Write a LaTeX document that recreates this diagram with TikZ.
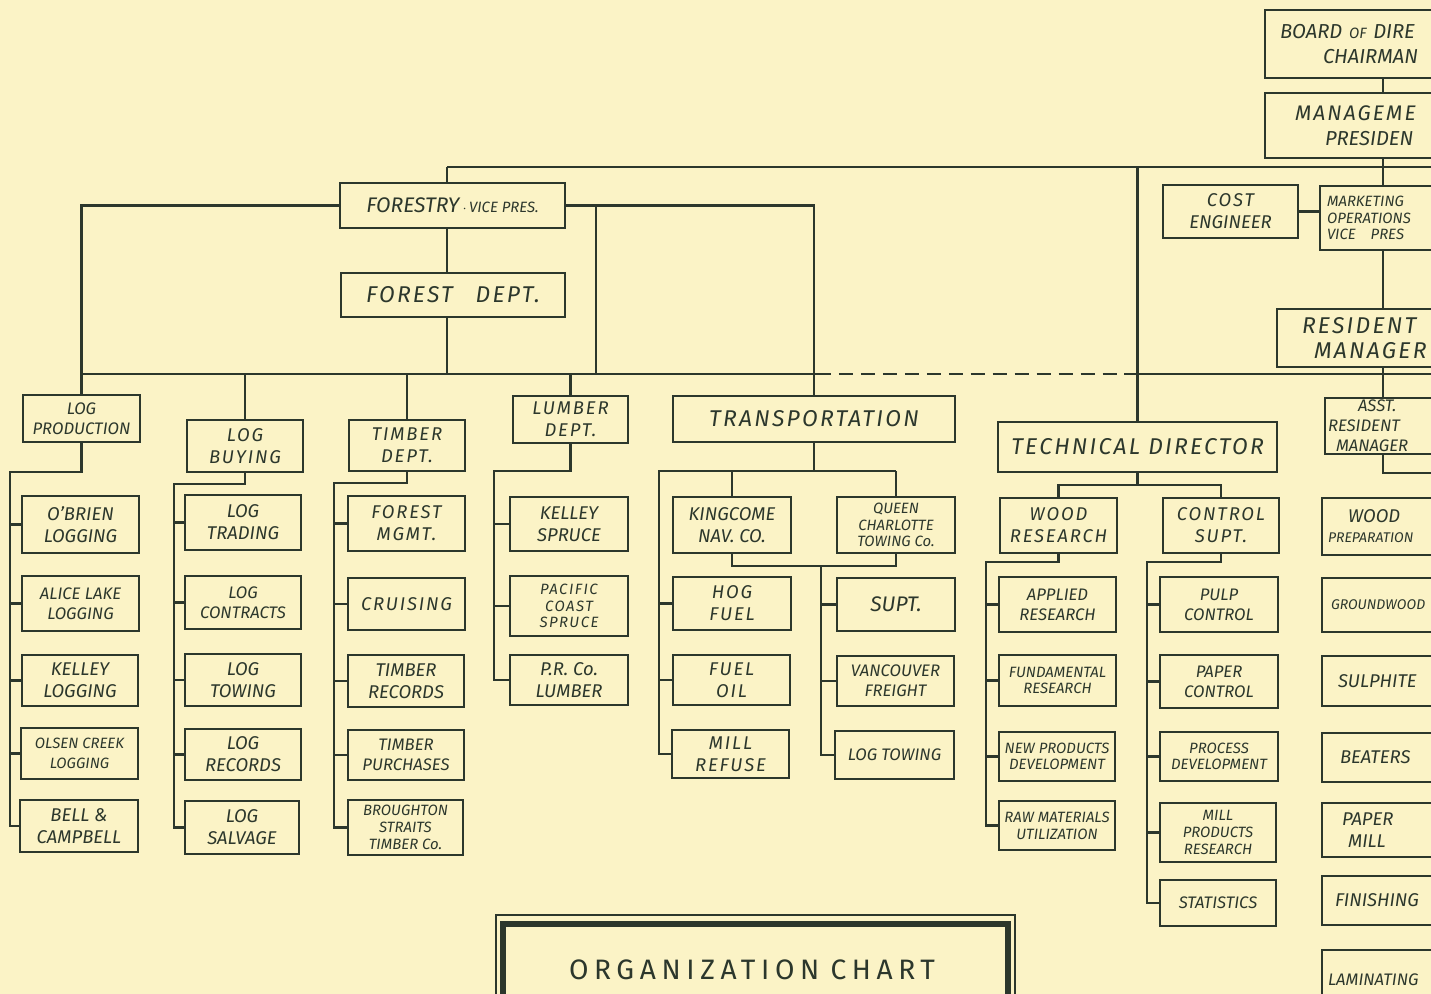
\documentclass[tikz,border=0pt]{standalone}
\usepackage{fontspec}
\setmainfont{Fira Sans}
\newfontfamily\spfont[LetterSpace=10]{Fira Sans}
\newfontfamily\titlefont[LetterSpace=20]{Fira Sans}
\definecolor{paper}{HTML}{FBF3C6}
\definecolor{ink}{HTML}{2C372C}
\newdimen\pxu \pxu=0.02cm
\newcommand{\nf}{\fontsize{10.5}{12.5}\selectfont\itshape}
\newcommand{\smf}{\fontsize{8.5}{9.5}\selectfont\itshape}
\newcommand{\xsf}{\fontsize{8}{9.5}\selectfont\itshape}
\newcommand{\mdf}{\fontsize{9.5}{11.5}\selectfont\itshape}
\newcommand{\lgf}{\spfont\fontsize{13}{14.5}\selectfont\itshape}
\tikzset{
  box/.style={draw=ink, line width=1.4pt, inner sep=0pt, outer sep=0pt, align=center, text=ink, font=\nf},
  rbox/.style={box, anchor=west, align=left, text width=4cm},
  conn/.style={draw=ink, line width=1.4pt},
}
% \bx[opts]{name}{x1}{y1}{x2}{y2}{text}
\newcommand{\bx}[7][]{\node[box,minimum width={(#5-#3)*0.02cm},minimum height={(#6-#4)*0.02cm},#1] (#2) at ({(#3+#5)/2},{(#4+#6)/2}) {#7};}
% \rbx[opts]{name}{x1}{y1}{y2}{pad}{text}  (box runs off the right edge)
\newcommand{\rbx}[7][]{\node[rbox,minimum height={(#5-#4)*0.02cm},inner xsep={#6*0.02cm},#1] (#2) at (#3,{(#4+#5)/2}) {#7};}
\begin{document}
\begin{tikzpicture}[x=0.02cm,y=-0.02cm]
\useasboundingbox (0,0) rectangle (1431,994);
\fill[paper] (0,0) rectangle (1431,994);
\clip (0,0) rectangle (1431,994);

% ---------- top right (cut off) ----------
\rbx[font={\fontsize{11.5}{14}\selectfont\itshape}]{board}{1265}{10}{78}{15}{BOARD {\smf OF} DIRE\\\hspace*{43\pxu}CHAIRMAN}
\rbx[font={\fontsize{11.5}{14}\selectfont\itshape}]{mgmt}{1265}{93}{158}{30}{{\spfont\itshape\fontsize{12}{14}\selectfont MANAGEME}\\\hspace*{30\pxu}PRESIDEN}
\bx{cost}{1163}{185}{1298}{238}{\spfont\itshape COST\\ENGINEER}
\rbx[font=\smf]{mkt}{1320}{186}{250}{7}{MARKETING\\OPERATIONS\\VICE\quad PRES}
\rbx[font=\lgf]{res}{1277}{309}{367}{25}{RESIDENT\\\hspace*{12\pxu}MANAGER}
\rbx[font=\mdf]{asst}{1325}{398}{454}{3}{\hspace*{30\pxu}ASST.\\RESIDENT\\\hspace*{8\pxu}MANAGER}
\rbx[font=\mdf]{wprep}{1322}{498}{555}{6}{\hspace*{20\pxu}{\nf WOOD}\\{\xsf PREPARATION}}
\rbx[font=\xsf]{gw}{1322}{578}{632}{9}{GROUNDWOOD}
\rbx{sul}{1322}{656}{706}{16}{SULPHITE}
\rbx{beat}{1322}{733}{782}{18}{BEATERS}
\rbx{pmill}{1322}{803}{857}{20}{PAPER\\\hspace*{6\pxu}MILL}
\rbx{fin}{1322}{876}{925}{13}{FINISHING}
\rbx[font=\mdf]{lam}{1322}{950}{1010}{6}{LAMINATING}
\coordinate (mx) at (1383,0);
\draw[conn] (board.south -| mx) -- (mgmt.north -| mx);
\draw[conn] (mgmt.south -| mx) -- (mkt.north -| mx);
\draw[conn] (mkt.south -| mx) -- (res.north -| mx);
\draw[conn] (res.south -| mx) -- (asst.north -| mx);
\coordinate (asstR) at (1440,473);
\draw[conn] (asst.south -| mx) |- (asstR);
\draw[conn] (cost.east) -- (cost.east -| mkt.west);

% ---------- forestry ----------
\bx{fvp}{340}{183}{565}{228}{{\fontsize{12}{14}\selectfont\itshape FORESTRY}\,{\smf$\cdot$\,VICE PRES.}}
\bx[font=\lgf]{fd}{341}{273}{565}{317}{FOREST\quad DEPT.}
\coordinate (fstem) at (447,167);
\coordinate (topR) at (1440,167);
\coordinate (busL) at (83,374);
\coordinate (busM) at (817,374);
\coordinate (busT) at (1138,374);
\coordinate (busR) at (1440,374);
\coordinate (x596) at (596,374);
\draw[conn] (fstem) -- (topR);
\draw[conn] (fstem) -- (fstem |- fvp.north);
\draw[conn] (fvp.south -| fstem) -- (fd.north -| fstem);
\draw[conn] (fd.south -| fstem) -- (fstem |- busL);
\draw[conn] (busL) -- (busM);
\draw[conn, dashed, dash pattern=on 8pt off 4.5pt] (busM) -- (busT);
\draw[conn] (busT) -- (busR);
\draw[conn] (x596) -- (x596 |- fvp.east);

% ---------- second level ----------
\bx[font=\mdf]{lp}{23}{395}{140}{442}{LOG\\PRODUCTION}
\bx[font=\spfont\nf]{lb}{187}{420}{303}{472}{LOG\\BUYING}
\bx[font=\spfont\nf]{td}{349}{420}{465}{471}{TIMBER\\DEPT.}
\bx[font=\spfont\nf]{ld}{513}{396}{628}{443}{LUMBER\\DEPT.}
\bx[font=\lgf]{tr}{673}{396}{955}{442}{TRANSPORTATION}
\bx[font=\lgf]{tdir}{998}{422}{1277}{472}{TECHNICAL DIRECTOR}
\draw[conn] (fvp.west) -| (lp.north);
\draw[conn] (fvp.east) -| (tr.north);
\draw[conn] (lb.north) -- (lb.north |- busL);
\draw[conn] (td.north) -- (td.north |- busL);
\draw[conn] (ld.north) -- (ld.north |- busL);
\draw[conn] (tdir.north) -- (tdir.north |- fstem);

% ---------- log production ----------
\bx{ob}{22}{496}{139}{553}{O'BRIEN\\LOGGING}
\bx[font=\mdf]{al}{22}{576}{139}{631}{ALICE LAKE\\LOGGING}
\bx{kl}{22}{655}{138}{706}{KELLEY\\LOGGING}
\bx[font=\smf]{oc}{21}{728}{138}{779}{OLSEN CREEK\\[2pt]LOGGING}
\bx{bc}{20}{800}{138}{852}{BELL \&\\CAMPBELL}
\coordinate (sLP) at (10,472);
\draw[conn] (lp.south) |- (sLP) |- (bc.west);
\foreach \n in {ob,al,kl,oc} \draw[conn] (\n.west) -- (\n.west -| sLP);

% ---------- log buying ----------
\bx{lt1}{185}{495}{301}{550}{LOG\\TRADING}
\bx[font=\mdf]{lc}{185}{576}{301}{629}{LOG\\CONTRACTS}
\bx{ltw}{185}{654}{301}{706}{LOG\\TOWING}
\bx{lr}{185}{729}{301}{780}{LOG\\RECORDS}
\bx{ls}{185}{801}{299}{854}{LOG\\SALVAGE}
\coordinate (sLB) at (174,484);
\draw[conn] (lb.south) |- (sLB) |- (ls.west);
\foreach \n in {lt1,lc,ltw,lr} \draw[conn] (\n.west) -- (\n.west -| sLB);

% ---------- timber dept ----------
\bx[font=\spfont\nf]{fm}{348}{496}{465}{551}{FOREST\\MGMT.}
\bx[font=\spfont\nf]{cr}{348}{578}{465}{630}{CRUISING}
\bx{trc}{348}{655}{464}{707}{TIMBER\\RECORDS}
\bx[font=\mdf]{tp}{348}{730}{464}{780}{TIMBER\\PURCHASES}
\bx[font=\smf]{bs}{348}{800}{463}{855}{BROUGHTON\\STRAITS\\TIMBER Co.}
\coordinate (sTD) at (334,483);
\draw[conn] (td.south) |- (sTD) |- (bs.west);
\foreach \n in {fm,cr,trc,tp} \draw[conn] (\n.west) -- (\n.west -| sTD);

% ---------- lumber dept ----------
\bx{ks}{510}{497}{628}{551}{KELLEY\\SPRUCE}
\bx[font=\smf\spfont\itshape]{pcs}{510}{576}{628}{636}{PACIFIC\\COAST\\SPRUCE}
\bx{prl}{510}{655}{628}{705}{P.R. Co.\\LUMBER}
\coordinate (sLD) at (494,471);
\draw[conn] (ld.south) |- (sLD) |- (prl.west);
\foreach \n in {ks,pcs} \draw[conn] (\n.west) -- (\n.west -| sLD);

% ---------- transportation ----------
\bx{kc}{673}{497}{791}{553}{KINGCOME\\NAV. CO.}
\bx[font=\smf]{qc}{837}{497}{955}{553}{QUEEN\\CHARLOTTE\\TOWING Co.}
\bx[font=\spfont\nf]{hf}{673}{577}{791}{630}{HOG\\FUEL}
\bx[font=\spfont\nf]{fo}{673}{655}{790}{705}{FUEL\\OIL}
\bx[font=\spfont\nf]{mr}{672}{730}{789}{778}{MILL\\REFUSE}
\bx[font=\fontsize{12}{14}\selectfont\itshape]{su}{837}{578}{955}{631}{SUPT.}
\bx[font=\mdf]{vf}{837}{656}{954}{706}{VANCOUVER\\FREIGHT}
\bx[font=\mdf]{ltow}{835}{731}{954}{779}{LOG TOWING}
\coordinate (tbus) at (659,471);
\coordinate (tbus2) at (821,566);
\draw[conn] (tr.south) -- (tr.south |- tbus);
\draw[conn] (kc.north) -- (kc.north |- tbus);
\draw[conn] (qc.north) -- (qc.north |- tbus);
\draw[conn] (qc.north |- tbus) -- (tbus) |- (mr.west);
\draw[conn] (kc.south) |- (tbus2) -| (qc.south);
\draw[conn] (tbus2) |- (ltow.west);
\foreach \n in {hf,fo} \draw[conn] (\n.west) -- (\n.west -| tbus);
\foreach \n in {su,vf} \draw[conn] (\n.west) -- (\n.west -| tbus2);

% ---------- technical director ----------
\bx[font=\spfont\nf]{wr}{1000}{498}{1117}{553}{WOOD\\RESEARCH}
\bx[font=\spfont\nf]{cs}{1163}{498}{1279}{553}{CONTROL\\SUPT.}
\coordinate (tdbus) at (1138,485);
\draw[conn] (tdir.south) -- (tdir.south |- tdbus);
\draw[conn] (wr.north) |- (tdbus) -| (cs.north);
\bx[font=\mdf]{ar}{999}{577}{1116}{632}{APPLIED\\RESEARCH}
\bx[font=\smf]{fr}{999}{655}{1116}{706}{FUNDAMENTAL\\RESEARCH}
\bx[font=\smf]{np}{999}{732}{1115}{781}{NEW PRODUCTS\\DEVELOPMENT}
\bx[font=\smf]{rm}{999}{801}{1115}{850}{RAW MATERIALS\\UTILIZATION}
\coordinate (sWR) at (986,562);
\draw[conn] (wr.south) |- (sWR) |- (rm.west);
\foreach \n in {ar,fr,np} \draw[conn] (\n.west) -- (\n.west -| sWR);
\bx[font=\mdf]{pc}{1160}{577}{1278}{632}{PULP\\CONTROL}
\bx[font=\mdf]{pac}{1160}{655}{1278}{708}{PAPER\\CONTROL}
\bx[font=\smf]{pd}{1160}{732}{1278}{781}{PROCESS\\DEVELOPMENT}
\bx[font=\smf]{mpr}{1160}{803}{1276}{862}{MILL\\PRODUCTS\\RESEARCH}
\bx[font=\mdf]{st}{1160}{880}{1276}{926}{STATISTICS}
\coordinate (sCS) at (1147,562);
\draw[conn] (cs.south) |- (sCS) |- (st.west);
\foreach \n in {pc,pac,pd,mpr} \draw[conn] (\n.west) -- (\n.west -| sCS);

% ---------- title frame ----------
\draw[ink, line width=0.8pt] (496,915) rectangle (1015,1010);
\draw[ink, line width=3.2pt] (503,924) rectangle (1008,1010);
\node[text=ink, font=\titlefont\fontsize{16}{20}\selectfont] (title) at (752,970) {ORGANIZATION\hspace{0.4em}CHART};
\end{tikzpicture}
\end{document}
